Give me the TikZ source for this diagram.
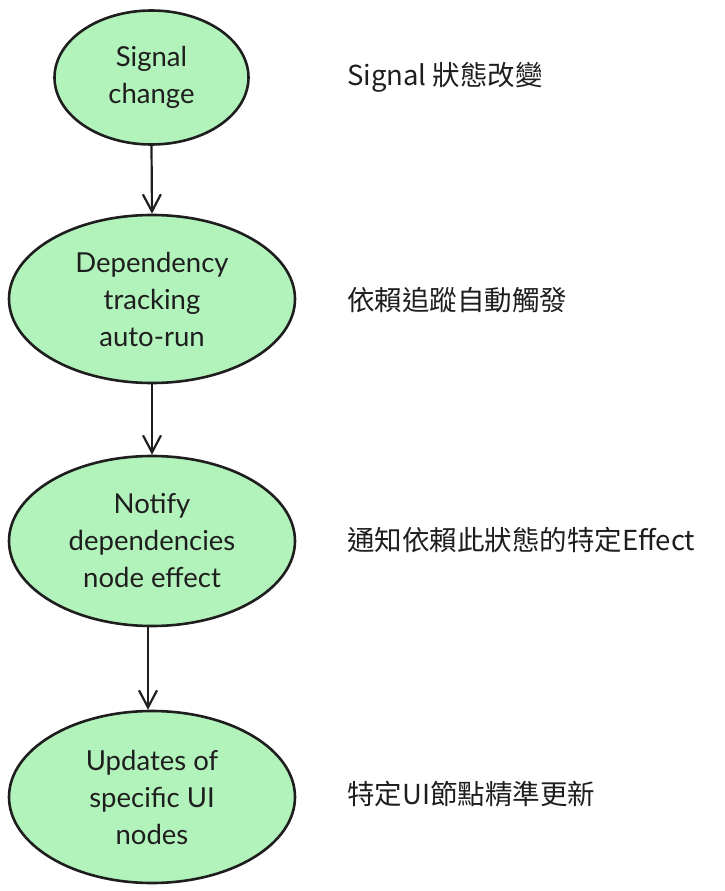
\documentclass[tikz,border=0pt]{standalone}
\usepackage{fontspec}
\setmainfont{Lato}
\newfontfamily\cjkfont{Noto Sans CJK TC}
\usetikzlibrary{shapes.geometric,arrows.meta}
\definecolor{fillgreen}{HTML}{B2F2BB}
\definecolor{inkc}{HTML}{1E1E1E}
\tikzset{
  stepell/.style={ellipse, draw=inkc, fill=fillgreen, line width=2.6pt, inner sep=0pt,
    align=center, text=inkc, font=\fontsize{27.5}{37}\selectfont},
  sidelabel/.style={anchor=west, inner sep=0pt, text=inkc, font=\cjkfont\fontsize{27.5}{30}\selectfont},
  flow/.style={draw=inkc, line width=2.2pt, -{Straight Barb[length=17pt,width=18pt,line width=2.2pt]}}
}
\begin{document}
\begin{tikzpicture}[x=1pt,y=-1pt]
\useasboundingbox (0,0) rectangle (725,891);
\node[stepell, minimum width=194pt, minimum height=134pt] (e1) at (151.5,77.5) {Signal\\change};
\node[stepell, minimum width=286pt, minimum height=168pt] (e2) at (152,299) {Dependency\\tracking\\auto-run};
\node[stepell, minimum width=286pt, minimum height=170pt] (e3) at (152,541) {Notify\\dependencies\\node effect};
\node[stepell, minimum width=286pt, minimum height=172pt] (e4) at (152,797) {Updates of\\specific UI\\nodes};
\draw[flow] (e1.south) -- (e2.north);
\draw[flow] (e2.south) -- (e3.north);
\draw[flow] ([xshift=-4pt]e3.south) -- ([xshift=-4pt]e4.north);
\node[sidelabel] (l1) at (347,77) {Signal 狀態改變};
\node[sidelabel] (l2) at (347,300) {依賴追蹤自動觸發};
\node[sidelabel] (l3) at (347,540) {通知依賴此狀態的特定Effect};
\node[sidelabel] (l4) at (347,794) {特定UI節點精準更新};
\end{tikzpicture}
\end{document}
